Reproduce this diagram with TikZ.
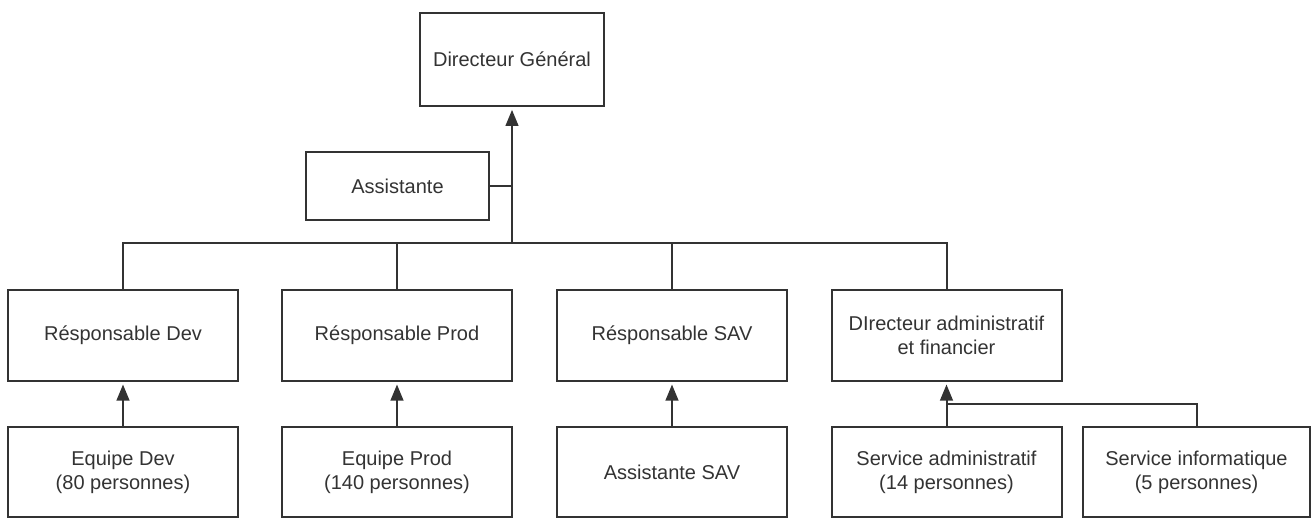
\documentclass[tikz,border=0pt]{standalone}
\usepackage{fontspec}
\setmainfont{Liberation Sans}
\usetikzlibrary{arrows.meta}
\definecolor{ink}{HTML}{333333}
\begin{document}
\begin{tikzpicture}[x=0.75pt,y=-0.75pt,
  box/.style={draw=ink,line width=1.5pt,text=ink,align=center,inner sep=0pt,
    font=\fontsize{15pt}{18pt}\selectfont},
  rowbox/.style={box,minimum width=172.5pt,minimum height=68pt},
  link/.style={draw=ink,line width=1.5pt},
  uparrow/.style={link,-{Triangle[length=12pt,width=9.5pt]},shorten >=2pt}]
\useasboundingbox (0,0) rectangle (1311,518);
\node[box,minimum width=138pt,minimum height=70pt] (dg) at (512,59.5) {Directeur Général};
\node[box,minimum width=137pt,minimum height=51pt] (ass) at (397.5,186) {Assistante};
\node[rowbox] (dev) at (123,335.5) {Résponsable Dev};
\node[rowbox] (prod) at (397,335.5) {Résponsable Prod};
\node[rowbox] (sav) at (672,335.5) {Résponsable SAV};
\node[rowbox] (daf) at (946.5,335.5) {DIrecteur administratif\\et financier};
\node[rowbox] (edev) at (123,472) {Equipe Dev\\(80 personnes)};
\node[rowbox] (eprod) at (397,472) {Equipe Prod\\(140 personnes)};
\node[rowbox] (asav) at (672,472) {Assistante SAV};
\node[rowbox] (sadm) at (946.5,472) {Service administratif\\(14 personnes)};
\node[rowbox,minimum width=170pt] (sinf) at (1196.5,472) {Service informatique\\(5 personnes)};
\coordinate (bus) at (512,243);
\coordinate (junc) at (946.5,404);
\draw[uparrow] (bus) -- (dg.south);
\draw[link] (ass.east) -- (ass.east -| dg.south);
\draw[link] (dev.north) |- (bus) -| (daf.north);
\draw[link] (prod.north) -- (prod.north |- bus);
\draw[link] (sav.north) -- (sav.north |- bus);
\draw[uparrow] (edev.north) -- (dev.south);
\draw[uparrow] (eprod.north) -- (prod.south);
\draw[uparrow] (asav.north) -- (sav.south);
\draw[uparrow] (sadm.north) -- (daf.south);
\draw[link] (sinf.north) |- (junc);
\end{tikzpicture}
\end{document}
